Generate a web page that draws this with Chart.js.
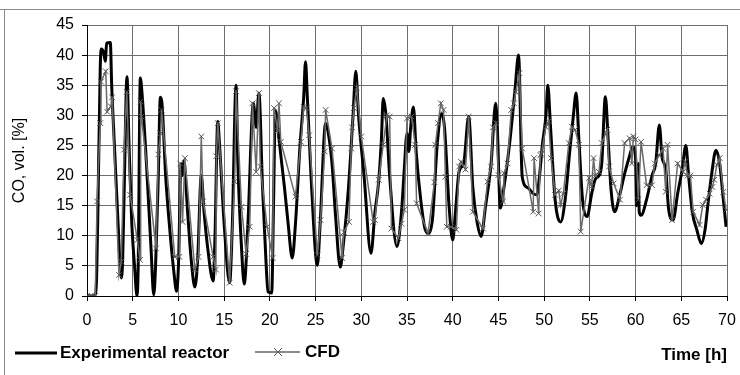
<!DOCTYPE html>
<html>
<head>
<meta charset="utf-8">
<script src="https://cdn.jsdelivr.net/npm/chart.js@4.4.1/dist/chart.umd.min.js"></script>
<style>
html,body{margin:0;padding:0;background:#fff;}
#wrap{position:relative;width:740px;height:375px;}
</style>
</head>
<body>
<div id="wrap"><canvas id="c" width="740" height="375"></canvas></div>
<script>
// Experimental reactor: time [h] and CO [%]
const expTime = [0,0.5,0.9,1.05,1.2,1.45,1.55,1.8,2.0,2.15,2.55,2.7,3.0,3.4,3.75,3.9,4.1,4.37,4.6,4.9,5.2,5.47,5.6,5.83,6.0,6.5,7.0,7.3,7.5,7.8,8.02,8.2,8.6,9.0,9.5,9.8,10.0,10.3,10.45,10.6,11.0,11.4,11.8,12.1,12.5,12.8,13.2,13.8,14.0,14.3,14.5,15.0,15.6,15.9,16.3,16.5,16.9,17.2,17.6,18.2,18.5,18.8,19.2,19.6,19.8,20.2,20.4,20.6,21.0,21.6,22.0,22.45,22.8,23.3,23.7,23.9,24.1,24.5,25.2,25.5,26.1,26.4,26.8,27.2,27.7,28.0,28.6,29.1,29.4,29.7,30.3,31.06,31.5,31.9,32.2,32.4,32.7,33.1,33.9,34.4,34.7,35.0,35.2,35.4,35.7,36.0,36.5,37.0,37.4,37.8,38.3,38.8,39.1,39.6,40.0,40.3,40.7,41.2,41.75,42.2,42.7,43.1,43.6,44.2,44.7,44.9,45.2,45.6,46.2,46.8,47.2,47.6,48.2,48.8,49.2,49.5,49.8,50.2,50.4,50.7,51.2,51.8,52.3,52.8,53.2,53.5,53.8,54.2,54.7,55.2,55.6,56.0,56.3,56.7,57.0,57.3,57.7,58.3,58.8,59.3,59.7,60.0,60.1,60.3,60.4,60.6,61.2,61.8,62.2,62.6,62.9,63.3,63.6,64.1,64.6,65.1,65.5,65.8,66.2,66.7,67.2,67.6,67.9,68.3,68.8,69.2,69.6,69.9];
const expCO   = [0,0,0.2,3,15,38,41,40.5,39,42,42.1,35,25,12,3,6,20,36.4,25,12,5,0,5,36.2,34,22,8,0.2,5,20,33,32,20,12,4,0.8,5,22,20,22.4,14,6,1.5,6,20,14,8,2.5,10,29,25,12,2.2,12,35,22,8,2,12,32,28,33.7,18,5,0.7,0.5,15,30.9,26,18,12,6.3,12,25,33,38.9,33,20,5.1,12,28.7,27,22,13,4.8,8,18,30,37.3,30,20,7.1,14,19,26,32.8,30,20,8.2,14,21,27,24,28,31.4,24,16,11,10.4,13,25,30.3,28,15,9.3,14,20.7,22,29.8,18,12,9.9,15,22,32,27,14.6,18,25,34,40,19.8,18,17,16.8,20,25,30,35,28,16,12.3,16,24,30,33.7,26,16,13.2,17,19.4,20,22,33.1,26,18,14,17,20.3,23,24.8,22.8,15,22,14,13.4,16,20,22,28.4,23,21,14.6,12.6,17,21,25,20,14,11,8.7,11,15,20,24.2,22,16,11.5];

// CFD: time [h] and CO [%]
const cfdTime = [0,0.5,0.9,1.1,1.45,1.53,2.05,2.2,2.6,2.75,3.5,3.75,4.05,4.35,4.72,5.5,5.8,5.87,5.95,7.55,7.8,8.05,8.15,9.6,10.1,10.2,10.45,10.7,11.8,12.2,12.5,12.7,13.8,14.1,14.15,14.3,15.6,16.15,16.3,16.9,17.4,17.8,18.1,18.5,18.8,18.95,19.7,20.3,20.45,20.85,21.0,21.2,22.8,23.4,23.7,24.0,24.3,25.2,25.55,26.0,26.1,26.8,27.9,28.1,28.65,28.9,29.0,29.2,29.5,30.0,31.3,31.5,31.9,32.4,32.8,33.1,33.3,34.05,34.4,34.7,35.0,35.5,35.9,36.05,37.3,38.0,38.1,38.4,38.7,39.0,39.2,39.35,39.8,40.4,40.7,40.9,41.4,41.75,42.2,43.3,43.8,44.2,44.4,44.75,45.0,45.5,45.6,46.0,46.4,46.7,46.9,47.3,47.6,48.8,48.9,49.4,49.6,49.7,50.2,50.5,50.75,51.2,51.6,51.8,52.1,52.7,53.05,53.4,53.8,54.0,54.9,55.2,55.4,55.6,56.0,56.3,56.9,57.1,57.6,58.3,58.8,59.35,59.6,59.75,60.0,60.3,60.6,61.2,61.8,62.1,62.6,63.0,63.3,63.5,64.0,64.6,65.2,65.4,65.7,66.0,66.3,67.0,67.35,67.7,68.1,68.4,68.6,68.9,69.2,69.6,69.9];
const cfdCO   = [0,0,0,15.7,28.7,35.6,37.3,30.6,31.5,33,3.5,5.7,24.3,33.9,16.8,9.3,6,32.3,29.8,7.9,23.5,27,30.9,6.5,6.5,22,12.3,22.9,4.4,6.5,26.5,15.7,6.5,4.4,23.2,28.7,2.2,19,34,14.8,7,11.5,32,20.6,33.7,21.5,11.5,6.3,31.2,27.5,32,25.6,16.5,25.6,31.4,31.2,26.7,6.8,12.6,24,30.9,24.5,6.3,10.6,12.3,24.5,28,31.2,34.6,26.5,12.3,12.6,19.3,25.1,30,29.8,11.2,9.6,12,14.3,29.5,29.8,25.1,15.4,10.4,18.9,25.1,28.7,32,30.9,19.8,11.5,11.5,11,21.5,22.3,21,29.8,14,11.2,19,21.5,28,28.7,20.1,15.7,20.4,22,30.9,32,33.9,37,24.5,14,22.9,13.7,23.4,23.6,28.1,29,22.9,16.8,17.5,15.1,17,25.4,28.1,27.6,25.1,10.7,19.6,18.2,22.9,20,20.6,25.4,27.6,21.5,18.7,16,25.4,26.2,22,26.5,26,16,25.6,18.4,18.4,22,23.4,24.5,17.3,25.1,12.6,22,20.6,22.3,20,20,14,11.8,15.1,16,17,18.1,19.3,21.8,22.9,17.3,14.3];

const seriesNames = ['Experimental reactor', 'CFD'];
const xTitle = 'Time [h]';
const yTitle = 'CO, vol. [%]';

const expData = expTime.map((t, i) => ({x: t, y: expCO[i]}));
const cfdData = cfdTime.map((t, i) => ({x: t, y: cfdCO[i]}));

const NARROW = "'Liberation Sans Narrow', 'Arial Narrow', 'Liberation Sans', Arial, sans-serif";

const framePlugin = {
  id: 'frame',
  beforeDraw(chart) {
    const ctx = chart.ctx;
    ctx.save();
    ctx.strokeStyle = '#8a8a8a';
    ctx.lineWidth = 1;
    ctx.beginPath();
    ctx.moveTo(0, 9.5); ctx.lineTo(740, 9.5);
    ctx.moveTo(4.5, 9.5); ctx.lineTo(4.5, 375);
    ctx.stroke();
    ctx.restore();
  }
};

const legendPlugin = {
  id: 'customLegend',
  afterDraw(chart) {
    const ctx = chart.ctx;
    ctx.save();
    ctx.font = "bold 17px " + NARROW;
    ctx.textBaseline = 'middle';
    ctx.fillStyle = '#000';
    ctx.strokeStyle = '#000';
    ctx.lineWidth = 3;
    ctx.beginPath(); ctx.moveTo(15, 353); ctx.lineTo(57, 353); ctx.stroke();
    ctx.fillText(seriesNames[0], 60, 353);
    ctx.strokeStyle = '#666';
    ctx.lineWidth = 1.5;
    ctx.beginPath(); ctx.moveTo(255, 352); ctx.lineTo(300, 352); ctx.stroke();
    ctx.lineWidth = 1;
    ctx.strokeStyle = '#555';
    ctx.beginPath();
    ctx.moveTo(274, 348); ctx.lineTo(282, 356);
    ctx.moveTo(282, 348); ctx.lineTo(274, 356);
    ctx.stroke();
    ctx.fillText(seriesNames[1], 305, 352);
    ctx.restore();
  }
};

new Chart(document.getElementById('c'), {
  type: 'line',
  data: {
    datasets: [
      {
        label: seriesNames[0],
        data: expData,
        borderColor: '#000',
        borderWidth: 3,
        pointRadius: 0,
        cubicInterpolationMode: 'monotone',
        order: 2
      },
      {
        label: seriesNames[1],
        data: cfdData,
        borderColor: '#6a6a6a',
        borderWidth: 1.5,
        pointStyle: 'crossRot',
        pointRadius: 4,
        pointBorderColor: '#555',
        pointBorderWidth: 1,
        tension: 0,
        order: 1
      }
    ]
  },
  options: {
    responsive: false,
    animation: false,
    layout: {padding: {top: 25, right: 13, left: 0, bottom: 0}},
    plugins: {legend: {display: false}, tooltip: {enabled: false}},
    scales: {
      x: {
        type: 'linear', min: 0, max: 70,
        afterFit(s) { s.height = 79; s.paddingLeft = 0; s.paddingRight = 0; },
        ticks: {stepSize: 5, color: '#000', padding: 10, maxRotation: 0, font: {family: NARROW, size: 16}},
        grid: {color: '#6e6e6e', lineWidth: 1, tickLength: 5, tickColor: '#000'},
        border: {display: true, color: '#000', width: 1},
        title: {display: true, text: xTitle, align: 'end', color: '#000', padding: {top: 0, bottom: 9}, font: {family: NARROW, size: 17, weight: 'bold'}}
      },
      y: {
        min: 0, max: 45,
        afterFit(s) { s.width = 87; s.paddingTop = 0; s.paddingBottom = 0; },
        ticks: {stepSize: 5, color: '#000', padding: 8, font: {family: NARROW, size: 16}},
        grid: {color: '#6e6e6e', lineWidth: 1, tickLength: 5, tickColor: '#000'},
        border: {display: true, color: '#000', width: 1},
        title: {display: true, text: yTitle, color: '#000', padding: {top: 10, bottom: 0}, font: {family: NARROW, size: 16}}
      }
    }
  },
  plugins: [framePlugin, legendPlugin]
});
</script>
</body>
</html>
